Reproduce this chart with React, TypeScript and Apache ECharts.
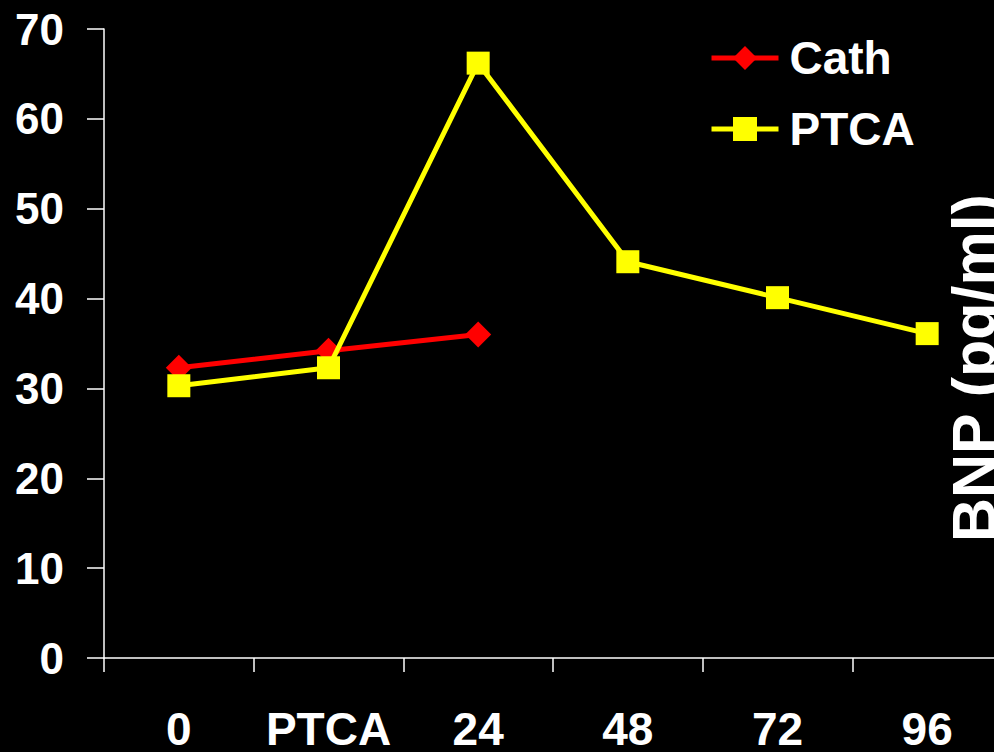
import React, { useEffect, useRef } from "react";
import * as echarts from "echarts";

const categories = ["0", "PTCA", "24", "48", "72", "96"];
const cathValues: (number | string)[] = [32.3, 34.2, 36.0, "-", "-", "-"];
const ptcaValues: number[] = [30.3, 32.3, 66.2, 44.1, 40.1, 36.1];
const yTicks = { min: 0, max: 70, interval: 10 };
const axisTitle = "BNP (pg/ml)";

const FONT = "'Liberation Sans', Arial, sans-serif";

export default function App() {
  const ref = useRef<HTMLDivElement>(null);
  useEffect(() => {
    document.body.style.margin = "0";
    document.body.style.background = "#000";
    document.body.style.overflow = "hidden";
    const chart = echarts.init(ref.current!, null, { renderer: "svg" });
    chart.setOption({
      animation: false,
      backgroundColor: "#000000",
      grid: { left: 104, top: 29, right: 8, bottom: 94, containLabel: false },
      legend: {
        orient: "vertical",
        left: 704,
        top: 28,
        itemWidth: 67,
        itemHeight: 30,
        itemGap: 21,
        lineStyle: { width: 5 },
        textStyle: {
          color: "#fff",
          fontSize: 46,
          fontWeight: "bold",
          fontFamily: FONT,
          lineHeight: 50,
          padding: [0, 0, 0, 6],
        },
        data: ["Cath", "PTCA"],
      },
      xAxis: {
        type: "category",
        data: categories,
        boundaryGap: true,
        axisLine: { lineStyle: { color: "#fff", width: 1.5 } },
        axisTick: { show: true, interval: 0, length: 14, lineStyle: { color: "#fff", width: 1.5 } },
        axisLabel: {
          interval: 0,
          color: "#fff",
          fontSize: 46,
          fontWeight: "bold",
          fontFamily: FONT,
          margin: 48,
        },
      },
      yAxis: {
        type: "value",
        min: yTicks.min,
        max: yTicks.max,
        interval: yTicks.interval,
        splitLine: { show: false },
        axisLine: { show: true, lineStyle: { color: "#fff", width: 1.5 } },
        axisTick: { show: true, length: 17, lineStyle: { color: "#fff", width: 1.5 } },
        axisLabel: { color: "#fff", fontSize: 44, fontWeight: "bold", fontFamily: FONT, margin: 40 },
      },
      graphic: [
        {
          type: "text",
          x: 974,
          y: 542,
          rotation: Math.PI / 2,
          style: {
            text: axisTitle,
            fill: "#fff",
            font: `bold 61px ${FONT}`,
            textAlign: "left",
            textVerticalAlign: "middle",
          },
        },
      ],
      series: [
        {
          name: "Cath",
          type: "line",
          data: cathValues,
          symbol: "diamond",
          symbolSize: 26,
          color: "#ff0000",
          lineStyle: { color: "#ff0000", width: 5 },
          itemStyle: { color: "#ff0000" },
          connectNulls: false,
          z: 2,
        },
        {
          name: "PTCA",
          type: "line",
          data: ptcaValues,
          symbol: "rect",
          symbolSize: 23,
          color: "#ffff00",
          lineStyle: { color: "#ffff00", width: 5 },
          itemStyle: { color: "#ffff00" },
          z: 3,
        },
      ],
    });
    return () => chart.dispose();
  }, []);
  return (
    <div
      ref={ref}
      style={{ position: "fixed", left: 0, top: 0, width: 1010, height: 752, background: "#000" }}
    />
  );
}
